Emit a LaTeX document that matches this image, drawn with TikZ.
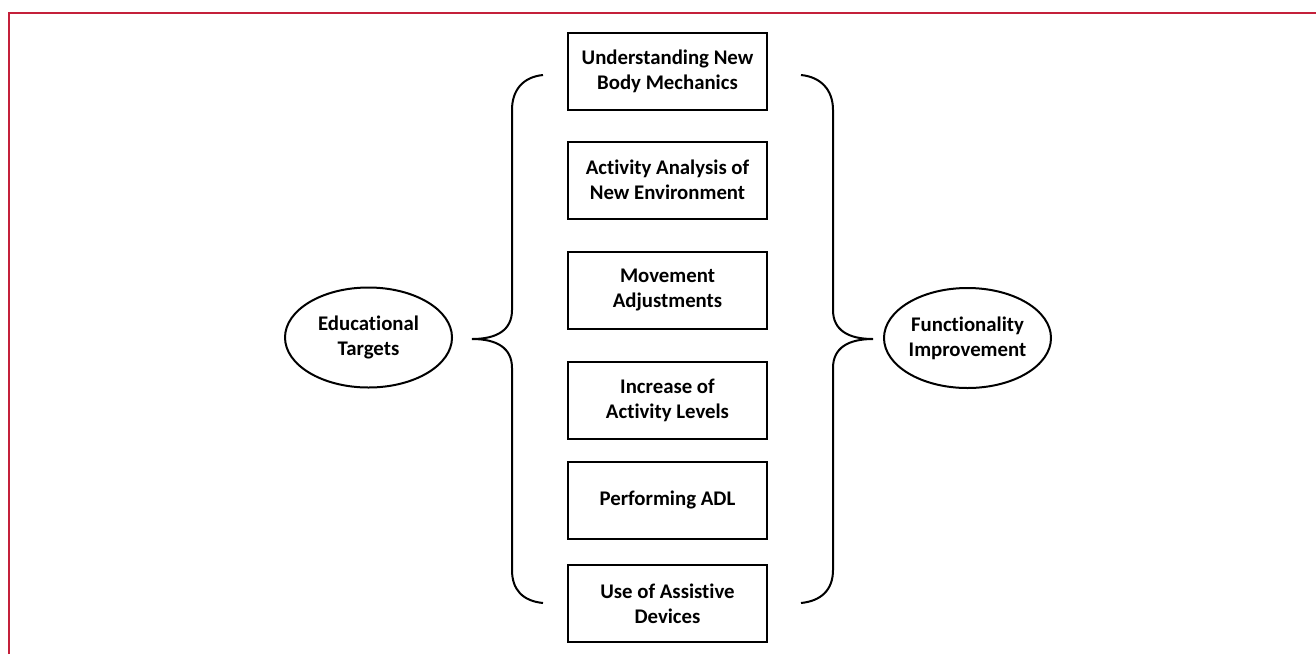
\documentclass[tikz,border=0pt]{standalone}
\usepackage{fontspec}
\setmainfont[Ligatures=CommonOff]{Carlito}
\usetikzlibrary{shapes.geometric}
\definecolor{framered}{RGB}{196,32,58}

\begin{document}
\begin{tikzpicture}[x=1pt, y=-1pt, box/.style={rectangle, draw, line width=2pt, minimum width=199pt, minimum height=77pt, inner sep=0pt, align=center, font=\bfseries\fontsize{20.8}{25}\selectfont}, goal/.style={ellipse, draw, line width=2pt, minimum width=167pt, minimum height=100pt, inner sep=0pt, align=center, font=\bfseries\fontsize{20.8}{25}\selectfont}, brace/.style={draw, line width=2pt}]

  \useasboundingbox (0,0) rectangle (1316,654);
  \draw[framered, line width=2pt] (9,654) -- (9,13) -- (1316,13);

  \node[box] (mechanics) at (667.5,71) {Understanding New\\Body Mechanics};
  \node[box] (analysis) at (667.5,180) {Activity Analysis of\\New Environment};
  \node[box] (movement) at (667.5,290) {Movement\\Adjustments};
  \node[box] (levels) at (667.5,400) {Increase of\\Activity Levels};
  \node[box] (adl) at (667.5,500) {Performing ADL};
  \node[box] (devices) at (667.5,603.5) {Use of Assistive\\Devices};

  \node[goal] (targets) at (368.5,337.5) {Educational\\Targets};
  \node[goal] (function) at (967.5,338) {Functionality\\Improvement};

  % left brace
  \draw[brace] (543,75) .. controls (523,77) and (512,90) .. (512,110) -- (512,310)
    .. controls (512,330) and (497,339) .. (472,339)
    .. controls (497,339) and (512,348) .. (512,368) -- (512,570)
    .. controls (512,590) and (523,601) .. (543,603);
  % right brace
  \draw[brace] (801,75) .. controls (821,77) and (833,90) .. (833,110) -- (833,310)
    .. controls (833,330) and (848,339) .. (873,339)
    .. controls (848,339) and (833,348) .. (833,368) -- (833,570)
    .. controls (833,590) and (821,601) .. (801,603);
\end{tikzpicture}
\end{document}
